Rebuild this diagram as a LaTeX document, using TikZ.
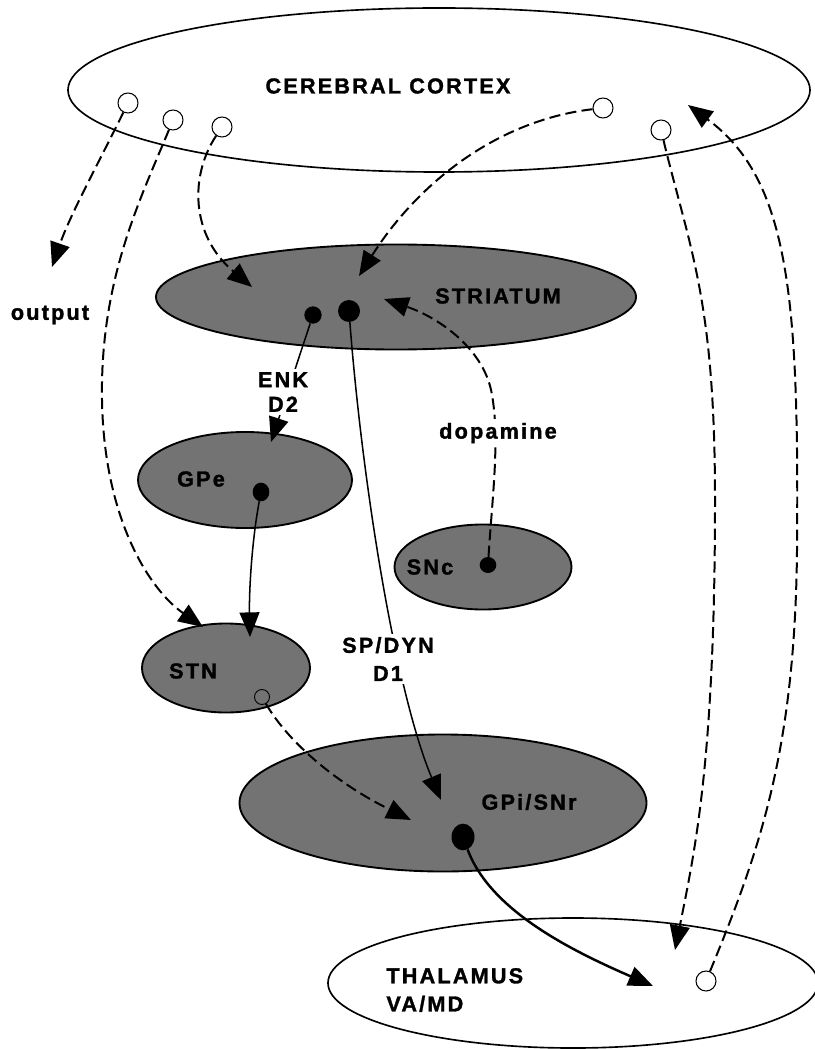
\documentclass[tikz,border=0pt]{standalone}
\usepackage{fontspec}
\setmainfont{Liberation Sans}
\newfontfamily\lblfont{Liberation Sans Bold}[LetterSpace=10, FakeBold=1.4]
\usetikzlibrary{arrows.meta,shapes.geometric}
\begin{document}
\begin{tikzpicture}[x=0.03cm,y=-0.03cm,
  region/.style={ellipse, draw=black, line width=1.6pt, fill=black!55, inner sep=0pt},
  openregion/.style={ellipse, draw=black, line width=1.4pt, inner sep=0pt},
  cell/.style={circle, draw=black, line width=0.9pt, fill=white, inner sep=0pt, minimum size=0.6cm},
  soma/.style={ellipse, fill=black, inner sep=0pt},
  lbl/.style={font=\lblfont\fontsize{18.5}{21}\selectfont, inner sep=1pt},
  blank/.style={fill=white, inner sep=3pt},
  tip/.style={-{Triangle[length=21pt,width=17pt]}},
  proj/.style={tip, line width=1.7pt, dash pattern=on 9.5pt off 4.5pt},
  solidproj/.style={tip, line width=1.3pt},
  thickproj/.style={tip, line width=2.1pt},
]
\useasboundingbox (0,0) rectangle (814,1049);

% regions
\node[openregion, minimum width=22.26cm, minimum height=4.92cm] (ctx) at (439,90) {};
\node[region, minimum width=14.4cm, minimum height=3.15cm] (str) at (396,297) {};
\node[region, minimum width=6.42cm, minimum height=2.88cm] (gpe) at (245,480) {};
\node[region, minimum width=5.31cm, minimum height=2.55cm] (snc) at (483,567) {};
\node[region, minimum width=5.04cm, minimum height=2.67cm] (stn) at (226,668) {};
\node[region, minimum width=12.21cm, minimum height=4.11cm] (gpi) at (443,803) {};
\node[openregion, minimum width=14.7cm, minimum height=3.9cm] (tha) at (573,983) {};

% region labels
\node[lbl] (lctx) at (388,86) {CEREBRAL CORTEX};
\node[lbl] (lstr) at (498,296) {STRIATUM};
\node[lbl] (lgpe) at (201,479) {GPe};
\node[lbl] (lsnc) at (430,567) {SNc};
\node[lbl] (lstn) at (193,671) {STN};
\node[lbl] (lgpi) at (529,802) {GPi/SNr};
\node[lbl, anchor=west, align=left] (ltha) at (385,990) {THALAMUS\\[3pt]VA/MD};
\node[lbl] (lout) at (50,315) {output};

% cells
\node[cell] (c1) at (128,103) {};
\node[cell] (c2) at (173,120) {};
\node[cell] (c3) at (222,127) {};
\node[cell] (c4) at (603,108) {};
\node[cell] (c5) at (661,130) {};
\node[cell] (tc) at (706,981) {};
\node[circle, draw=black, line width=0.8pt, inner sep=0pt, minimum size=0.45cm] (sc) at (262,697) {};
\node[soma, minimum width=0.52cm, minimum height=0.52cm] (d1) at (313,315) {};
\node[soma, minimum width=0.66cm, minimum height=0.66cm] (d2) at (349,311) {};
\node[soma, minimum width=0.5cm, minimum height=0.56cm] (dgpe) at (261,492) {};
\node[soma, minimum width=0.5cm, minimum height=0.48cm] (dsnc) at (488,565) {};
\node[soma, minimum width=0.69cm, minimum height=0.8cm] (dgpi) at (463,837) {};

% arrow end points
\coordinate (tOut) at (52,267);
\coordinate (tStr1) at (252,287);
\coordinate (tStr2) at (359,276);
\coordinate (tStr3) at (384,299);
\coordinate (tGPe) at (271,442);
\coordinate (tSTN1) at (203,627);
\coordinate (tSTN2) at (250,637);
\coordinate (tGPi1) at (441,800);
\coordinate (tGPi2) at (411,820);
\coordinate (tTh1) at (653,986);
\coordinate (tTh2) at (675,950);
\coordinate (tCtx) at (688,105);

% cortical projections
\draw[proj] (c1) .. controls (100,160) and (70,215) .. (tOut);
\draw[proj] (c2) .. controls (140,200) and (100,280) .. (102,400)
               .. controls (104,520) and (150,590) .. (tSTN1);
\draw[proj] (c3) .. controls (190,175) and (190,235) .. (tStr1);
\draw[proj] (c4) .. controls (500,120) and (420,180) .. (tStr2);
\draw[proj] (c5) .. controls (690,250) and (715,300) .. (715,500)
               .. controls (715,760) and (695,850) .. (tTh2);
\draw[proj] (tc) .. controls (760,850) and (795,750) .. (797,550)
               .. controls (799,300) and (790,180) .. (tCtx);

% dopamine
\draw[proj] (dsnc) .. controls (492,500) and (500,440) .. (492,395)
               .. controls (485,350) and (440,318) .. (tStr3);
\node[lbl, blank] (ldop) at (498,433) {dopamine};

% indirect / direct pathways
\draw[solidproj] (d1) -- (tGPe);
\node[lbl, blank, align=center] (lenk) at (283,392) {ENK\\D2};
\draw[solidproj] (d2) .. controls (362,480) and (395,690) .. (tGPi1);
\node[lbl, blank, align=center] (lsp) at (388,659) {SP/DYN\\[3pt]D1};
\draw[solidproj] (dgpe) .. controls (252,540) and (249,590) .. (tSTN2);
\draw[proj] (sc) .. controls (290,745) and (340,785) .. (tGPi2);
\draw[thickproj] (dgpi) .. controls (490,910) and (570,950) .. (tTh1);
\end{tikzpicture}
\end{document}
